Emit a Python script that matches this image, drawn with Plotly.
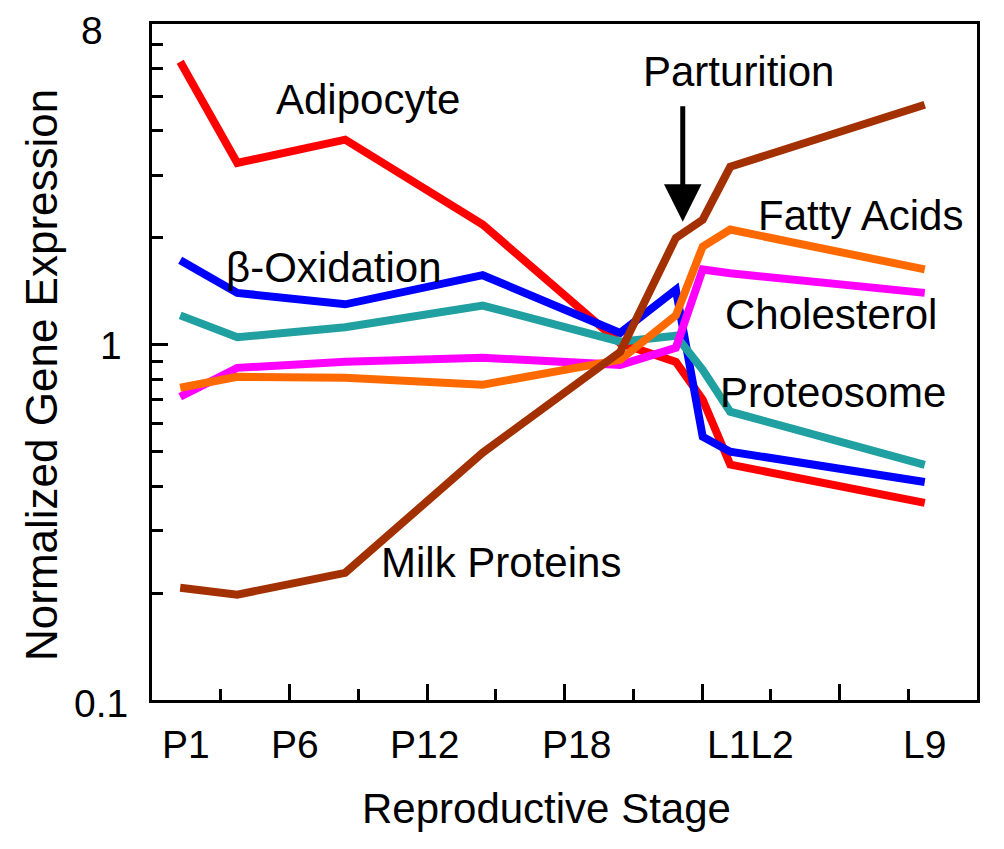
import plotly.graph_objects as go

# x positions of the sampled stages (axis units, 0-12)
stage_x = [0.41, 1.24, 2.81, 4.81, 6.81, 7.62, 8.01, 8.41, 11.24]

adipocyte = [6.26, 3.25, 3.78, 2.18, 1.01, 0.895, 0.70, 0.46, 0.359]
beta_oxidation = [1.73, 1.40, 1.30, 1.57, 1.08, 1.43, 0.551, 0.50, 0.411]
proteosome = [1.21, 1.05, 1.12, 1.29, 1.02, 1.06, 0.85, 0.648, 0.459]
cholesterol = [0.714, 0.861, 0.896, 0.919, 0.878, 0.981, 1.63, 1.59, 1.40]
fatty_acids = [0.757, 0.813, 0.807, 0.772, 0.907, 1.21, 1.89, 2.11, 1.63]
milk_proteins = [0.207, 0.198, 0.228, 0.497, 0.955, 2.0, 2.25, 3.17, 4.74]

stage_labels = ["P1", "P6", "P12", "P18", "L1L2", "L9"]
stage_label_x = [0.49, 2.08, 3.96, 6.18, 8.70, 11.23]

FONT = "Liberation Sans"

series = [
    (adipocyte, "#FF0000"),
    (beta_oxidation, "#0000FF"),
    (proteosome, "#20A0A0"),
    (cholesterol, "#FF00FF"),
    (fatty_acids, "#FF6A00"),
    (milk_proteins, "#A33000"),
]

fig = go.Figure()
for vals, col in series:
    fig.add_trace(go.Scatter(x=stage_x, y=vals, mode="lines",
                             line=dict(color=col, width=8), showlegend=False))

# x axis: ticks every stage unit, long ones on even values
fig.update_xaxes(range=[0, 12], showline=True, mirror=True, linecolor="black", linewidth=3,
                 tickvals=[2, 4, 6, 8, 10], ticks="inside", ticklen=16, tickwidth=3, tickcolor="black",
                 showticklabels=False, showgrid=False, zeroline=False,
                 minor=dict(tickvals=[1, 3, 5, 7, 9, 11], ticks="inside", ticklen=11,
                            tickwidth=3, tickcolor="black", showgrid=False))
fig.update_yaxes(type="log", range=[-1, 0.9031], showline=True, mirror=True, linecolor="black", linewidth=3,
                 tickvals=[1], ticks="inside", ticklen=16, tickwidth=3, tickcolor="black",
                 showticklabels=False, showgrid=False, zeroline=False,
                 minor=dict(tickvals=[0.2, 0.3, 0.4, 0.5, 0.6, 0.7, 0.8, 0.9, 2, 3, 4, 5, 6, 7],
                            ticks="inside", ticklen=11, tickwidth=3, tickcolor="black", showgrid=False))


def label(text, x, y, size, xref="paper", **kw):
    kw.setdefault("xanchor", "center")
    fig.add_annotation(x=x, xref=xref, y=y, yref="paper", text=text, showarrow=False,
                       yanchor="middle", font=dict(family=FONT, size=size, color="black"), **kw)


# stage labels under the axis
for lab, xv in zip(stage_labels, stage_label_x):
    label(lab, xv, -0.066, 39, xref="x")

# y tick labels
for lab, yv, xs in [("8", 0.991, -47), ("1", 0.525, -28), ("0.1", -0.005, -22)]:
    label(lab, 0, yv, 39, xanchor="right", xshift=xs)

# axis titles
label("Reproductive Stage", 0.4776, -0.16, 42)
label("Normalized Gene Expression", -0.1333, 0.4808, 44, textangle=-90)

# series labels
labels = [
    ("Adipocyte", 0.2618, 0.8876),
    ("β-Oxidation", 0.2206, 0.6391),
    ("Parturition", 0.7115, 0.9290),
    ("Fatty Acids", 0.8582, 0.7160),
    ("Cholesterol", 0.8230, 0.5710),
    ("Proteosome", 0.8255, 0.4556),
    ("Milk Proteins", 0.4230, 0.2041),
]
for txt, px_, py_ in labels:
    label(txt, px_, py_, 42)

# parturition arrow
fig.add_annotation(x=7.72, y=0.3464, xref="x", yref="y", ax=0, ay=-117, text="",
                   showarrow=True, arrowhead=2, arrowsize=1.5, arrowwidth=5, arrowcolor="black")

# page body keeps an 8px margin, so the figure is shrunk to sit in the window
fig.update_layout(width=988, height=833, margin=dict(l=144, r=19, t=16, b=141),
                  plot_bgcolor="white", paper_bgcolor="white")
fig.write_html("out.html")
